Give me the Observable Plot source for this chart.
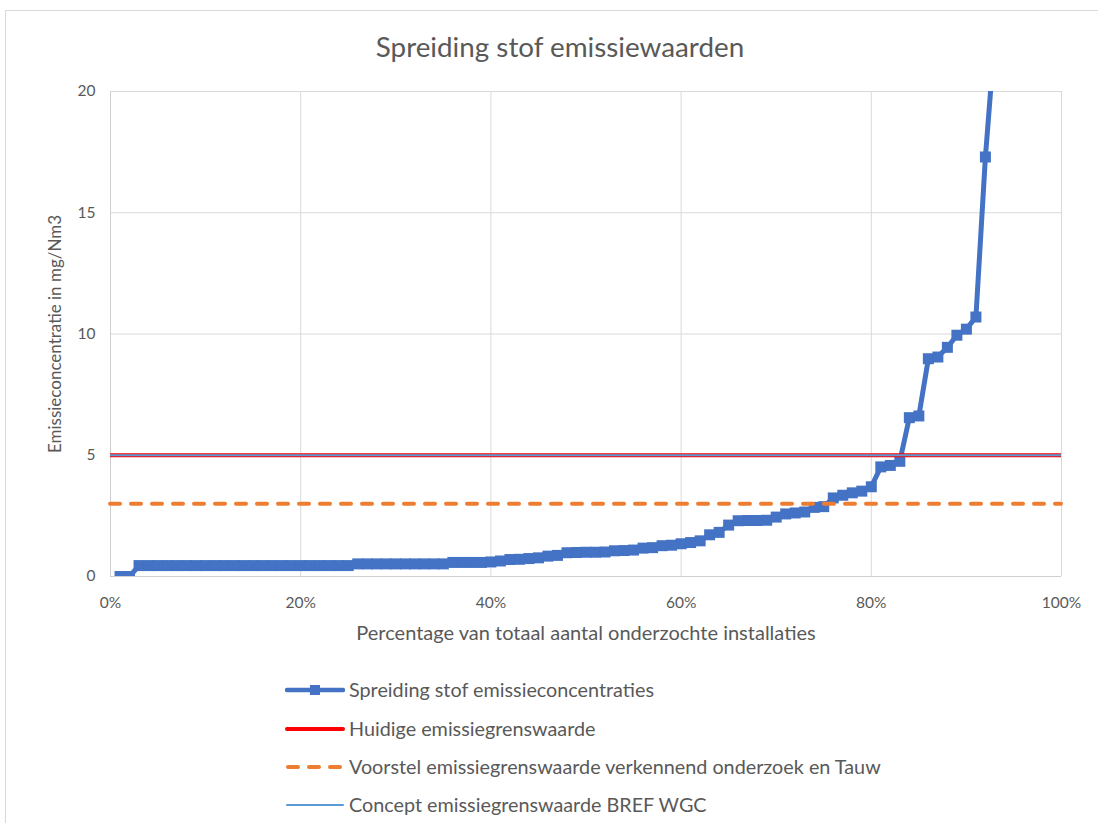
<!DOCTYPE html>
<html><head><meta charset="utf-8">
<script src="https://cdn.jsdelivr.net/npm/d3@7"></script>
<script src="https://cdn.jsdelivr.net/npm/@observablehq/plot@0.6"></script>
<style>
html,body{margin:0;padding:0;background:#fff;overflow:hidden;width:1098px;height:823px;font-family:Lato,"Open Sans",sans-serif;}
#frame{position:absolute;left:5px;top:10px;width:1110px;height:830px;border:1px solid #d9d9d9;box-sizing:border-box;}
#title{position:absolute;left:5px;width:1110px;top:31px;text-align:center;font-size:27.8px;line-height:32px;color:#595959;}
#chart{position:absolute;left:0;top:0;}
#chart g[aria-label="x-axis label"] text{font-size:20px;}
#chart g[aria-label="y-axis label"] text{font-size:17px;}
#legend{position:absolute;left:285px;top:0;}
.item{position:absolute;left:0;height:24px;white-space:nowrap;font-size:19.8px;line-height:24px;color:#595959;}
.item svg{position:absolute;left:0;top:0;}
.item span{position:absolute;left:64px;top:-1px;}
</style>
</head><body>
<div id="frame"></div>
<div id="chart"></div>
<div id="title"></div>
<div id="legend"></div>
<script>
// ---- data ----
const chartTitle = "Spreiding stof emissiewaarden";
const xLabel = "Percentage van totaal aantal onderzochte installaties";
const yLabel = "Emissieconcentratie in mg/Nm3";
// emission concentration per installation, sorted ascending (mg/Nm3)
const emissions = [
  0, 0,
  0.45,0.45,0.45,0.45,0.45,0.45,0.45,0.45,0.45,0.45,0.45,0.45,0.45,0.45,0.45,0.45,0.45,0.45,0.45,0.45,0.45,0.45,0.45,
  0.52,0.52,0.52,0.52,0.52,0.52,0.52,0.52,0.52,0.52,
  0.58,0.58,0.58,0.58,0.60,
  0.64,0.70,0.71,0.74,0.77,0.84,0.87,0.98,0.99,1.00,
  1.00,1.01,1.06,1.07,1.09,1.17,1.19,1.27,1.29,1.35,
  1.40,1.47,1.72,1.82,2.12,2.30,2.31,2.31,2.32,2.45,
  2.58,2.62,2.66,2.85,2.88,3.24,3.35,3.45,3.52,3.70,
  4.52,4.58,4.75,6.55,6.62,8.98,9.05,9.45,9.95,10.2,
  10.7,17.3,22.3,25,29,34,41,52,68,95
];
const limitCurrent = 5;    // Huidige emissiegrenswaarde
const limitProposal = 3;   // Voorstel verkennend onderzoek en Tauw
const limitBref = 5;       // Concept BREF WGC
const xTicks = [0, 0.2, 0.4, 0.6, 0.8, 1];
const yTicks = [0, 5, 10, 15, 20];
const seriesNames = [
  "Spreiding stof emissieconcentraties",
  "Huidige emissiegrenswaarde",
  "Voorstel emissiegrenswaarde verkennend onderzoek en Tauw",
  "Concept emissiegrenswaarde BREF WGC"
];
const colors = {data:"#4472C4", current:"#FF0000", proposal:"#ED7D31", bref:"#5B9BD5"};

const rows = emissions.map((v,i)=>({x:(i+1)/emissions.length, y:v}));

const chart = Plot.plot({
  width: 1098, height: 660,
  marginLeft: 110, marginRight: 37, marginTop: 91, marginBottom: 84,
  x: {domain:[0,1], ticks:xTicks, tickFormat:d=>Math.round(d*100)+"%", tickSize:0, tickPadding:20,
      label:xLabel, labelAnchor:"center", labelOffset:63, labelArrow:"none"},
  y: {domain:[0,20], ticks:yTicks, tickSize:0, tickPadding:15,
      label:yLabel, labelAnchor:"center", labelOffset:62, labelArrow:"none"},
  style: {fontFamily:"Lato, 'Open Sans', sans-serif", fontSize:"15.5px", color:"#595959", background:"transparent"},
  marks: [
    Plot.gridX(xTicks, {stroke:"#d9d9d9", strokeOpacity:1}),
    Plot.gridY(yTicks, {stroke:"#d9d9d9", strokeOpacity:1}),
    Plot.ruleX([0], {stroke:"#cfcfcf"}),
    Plot.ruleY([0], {stroke:"#cfcfcf"}),
    Plot.line(rows, {x:"x", y:"y", stroke:colors.data, strokeWidth:5, clip:true}),
    Plot.dot(rows, {x:"x", y:"y", symbol:"square", r:6.2, fill:colors.data, stroke:"none", clip:true}),
    Plot.ruleY([limitCurrent], {stroke:colors.current, strokeWidth:4}),
    Plot.ruleY([limitProposal], {stroke:colors.proposal, strokeWidth:4, strokeDasharray:"10,11", strokeLinecap:"round"}),
    Plot.ruleY([limitBref], {stroke:colors.bref, strokeWidth:2})
  ]
});
document.getElementById("chart").appendChild(chart);
document.getElementById("title").textContent = chartTitle;

// legend
const legend = document.getElementById("legend");
const rowY = [678, 717, 755, 793];
const swatches = [
  `<svg width="60" height="24"><line x1="2" x2="58" y1="12" y2="12" stroke="${colors.data}" stroke-width="4.5" stroke-linecap="round"/><rect x="25" y="7" width="10" height="10" fill="${colors.data}"/></svg>`,
  `<svg width="60" height="24"><line x1="2" x2="58" y1="12" y2="12" stroke="${colors.current}" stroke-width="4" stroke-linecap="round"/></svg>`,
  `<svg width="60" height="24"><line x1="3" x2="58" y1="12" y2="12" stroke="${colors.proposal}" stroke-width="4" stroke-dasharray="10,11" stroke-linecap="round"/></svg>`,
  `<svg width="60" height="24"><line x1="2" x2="58" y1="12" y2="12" stroke="${colors.bref}" stroke-width="2" stroke-linecap="round"/></svg>`
];
seriesNames.forEach((name,i)=>{
  const d = document.createElement("div");
  d.className = "item";
  d.style.top = rowY[i] + "px";
  d.innerHTML = swatches[i] + "<span></span>";
  d.querySelector("span").textContent = name;
  legend.appendChild(d);
});
</script>
</body></html>
